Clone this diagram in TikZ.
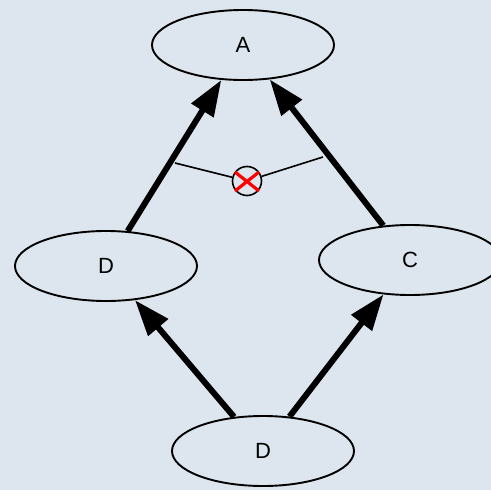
\documentclass[tikz,border=0pt]{standalone}
\usepackage{fontspec}
\setmainfont{Liberation Sans}
\usepackage{tikz}
\usetikzlibrary{arrows.meta,shapes.geometric}
\definecolor{paper}{HTML}{DDE5EE}

\begin{document}
\begin{tikzpicture}[x=1pt,y=-1pt] \tikzstyle{every node}=[ellipse,draw,line width=1.9pt,minimum width=182pt,minimum height=70pt,font=\fontsize{22}{22}\selectfont]
\tikzstyle{dep}=[line width=6pt,-{Triangle[length=36pt,width=25pt]}]
\fill[paper] (0,0) rectangle (491,490);
\useasboundingbox (0,0) rectangle (491,490);
\node (a) at (243,45) {A};
\node (b) at (106,266) {D};
\node (c) at (410,260) {C};
\node (d) at (263,451) {D};
\draw[dep] (b) -- (a);
\draw[dep] (c) -- (a);
\draw[dep] (d) -- (b);
\draw[dep] (d) -- (c);
% the two upward edges are tied by a blocked link
\coordinate (l) at (175,163);
\coordinate (r) at (323,157);
\node[circle,line width=1.6pt,minimum size=29pt,inner sep=0pt] (x) at (247,181) {};
\draw[line width=1.6pt] (l) -- (x) -- (r);
\draw[red,line width=3.2pt] (x.center) +(-12,-9) -- +(12,10)
    (x.center) +(-12,10) -- +(12,-9);
\end{tikzpicture}
\end{document}
